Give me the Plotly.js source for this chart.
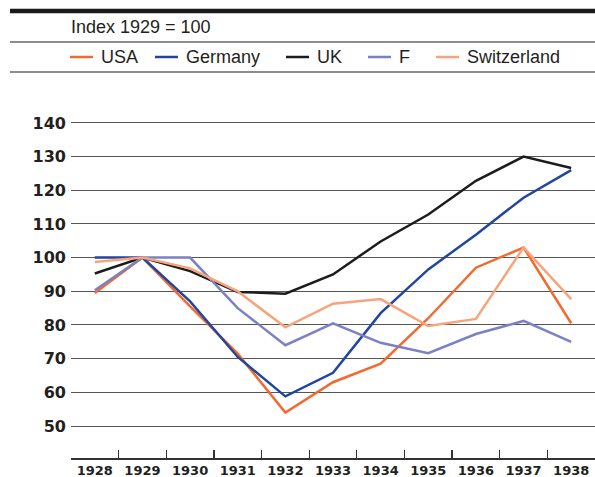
<!DOCTYPE html>
<html>
<head>
<meta charset="utf-8">
<script src="https://cdn.plot.ly/plotly-3.0.1.min.js"></script>
<style>html,body{margin:0;padding:0;background:#fff;}#chart{width:595px;height:477px;}</style>
</head>
<body>
<div id="chart"></div>
<script>
var years = ['1928','1929','1930','1931','1932','1933','1934','1935','1936','1937','1938'];
var usa = [89.5, 100, 85.5, 71.5, 54, 63, 68.5, 82, 97, 103, 80.5];
var germany = [100, 100, 87, 70.5, 58.8, 65.8, 83.5, 96.5, 106.8, 117.8, 126];
var uk = [95.3, 100, 96, 89.8, 89.3, 95, 104.8, 112.8, 122.8, 130, 126.6];
var france = [90.3, 100, 100, 85, 74, 80.5, 74.7, 71.6, 77.3, 81.2, 75];
var swiss = [98.7, 100, 96.8, 90, 79.3, 86.3, 87.7, 79.7, 81.8, 103, 87.7];
var yTicks = [50, 60, 70, 80, 90, 100, 110, 120, 130, 140];
var subtitle = 'Index 1929 = 100';
var seriesNames = ['USA', 'Germany', 'UK', 'F', 'Switzerland'];
var colors = {USA:'#f26a30', Germany:'#2146a0', UK:'#1c1c1c', F:'#7c80c4', Switzerland:'#f7a47c'};

var W = 595, H = 477, L = 71, R = 0, T = 100, B = 19;
var pw = W - L - R, ph = H - T - B;
function xp(px){ return (px - L) / pw; }
function yp(py){ return (H - B - py) / ph; }

function tr(name, data){
  return {x: years, y: data, type:'scatter', mode:'lines', name:name,
          line:{color:colors[name], width:2.5}, hoverinfo:'skip'};
}
var traces = [tr('UK', uk), tr('USA', usa), tr('Germany', germany), tr('F', france), tr('Switzerland', swiss)];

var txtFont = {family:'"Liberation Sans", Arial, sans-serif', size:18, color:'#231f20'};
var shapes = [
  {type:'line', xref:'paper', yref:'paper', x0:xp(10), x1:xp(595), y0:yp(11), y1:yp(11), line:{color:'#1a1a1a', width:4.5}},
  {type:'line', xref:'paper', yref:'paper', x0:xp(10), x1:xp(595), y0:yp(42), y1:yp(42), line:{color:'#8c8c8c', width:2}},
  {type:'line', xref:'paper', yref:'paper', x0:xp(10), x1:xp(595), y0:yp(72), y1:yp(72), line:{color:'#8c8c8c', width:2}}
];
var annotations = [
  {text:subtitle, xref:'paper', yref:'paper', x:xp(69), y:yp(27), xanchor:'left', yanchor:'middle', showarrow:false, font:txtFont}
];
var legX = [70, 155, 286, 368, 436];
seriesNames.forEach(function(n, i){
  shapes.push({type:'line', xref:'paper', yref:'paper', x0:xp(legX[i]), x1:xp(legX[i]+23), y0:yp(57), y1:yp(57), line:{color:colors[n], width:2.5}});
  annotations.push({text:n, xref:'paper', yref:'paper', x:xp(legX[i]+29), y:yp(57), xanchor:'left', yanchor:'middle', showarrow:false, font:txtFont});
});

var layout = {
  width: W, height: H,
  margin: {l:L, r:R, t:T, b:B, pad:0},
  paper_bgcolor:'#fff', plot_bgcolor:'#fff',
  showlegend:false,
  xaxis: {type:'category', range:[-0.5, 10.5], tickson:'boundaries', ticks:'inside', ticklen:8, tickwidth:1.2, tickcolor:'#333',
          showline:true, linecolor:'#333', linewidth:1.5, showgrid:false, zeroline:false, tickangle:0,
          tickfont:{family:'"DejaVu Sans", sans-serif', size:13, color:'#231f20', weight:'bold'}, fixedrange:true},
  yaxis: {range:[40.5, 146.8], tickvals:yTicks, ticktext:yTicks.map(String), showgrid:true, gridcolor:'#555', gridwidth:1,
          zeroline:false, showline:false, ticks:'', ticklabelstandoff:4,
          tickfont:{family:'"DejaVu Sans", sans-serif', size:16, color:'#231f20', weight:'bold'}, fixedrange:true},
  shapes: shapes,
  annotations: annotations
};
Plotly.newPlot('chart', traces, layout, {displayModeBar:false, staticPlot:true});
</script>
</body>
</html>
